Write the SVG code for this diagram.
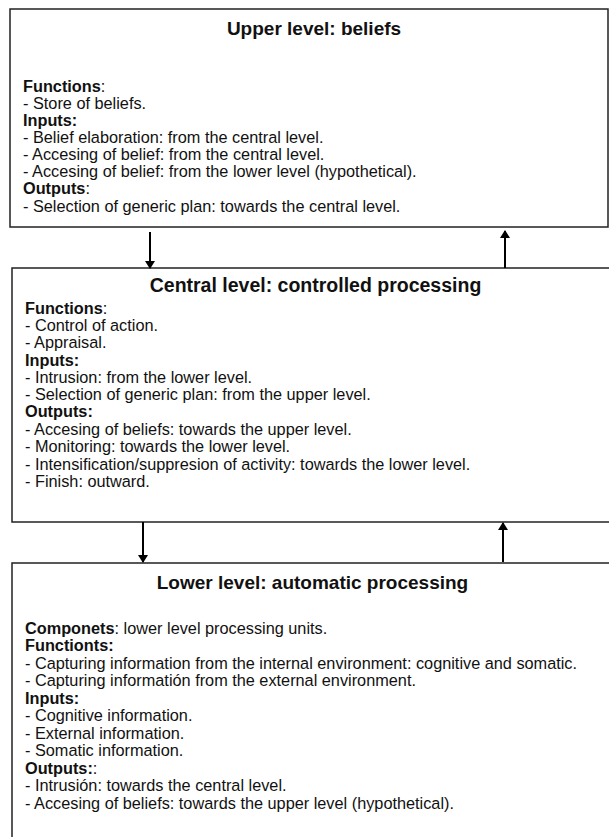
<svg xmlns="http://www.w3.org/2000/svg" width="609" height="837" viewBox="0 0 609 837">
<style>
.box{fill:#fff;stroke:#222;stroke-width:1.5}
.t{font-family:"Liberation Sans",Arial,sans-serif;font-size:16.3px;fill:#111}
.b{font-weight:bold}
.h{font-family:"Liberation Sans",Arial,sans-serif;font-size:19.5px;font-weight:bold;fill:#111;text-anchor:middle}
.s{font-size:19px}
.c{stroke:#000;stroke-width:2;fill:none}
</style>
<defs>
<marker id="ah" markerWidth="8" markerHeight="10" refX="7" refY="5" orient="auto" markerUnits="userSpaceOnUse" viewBox="0 0 8 10">
<path d="M0,0 L8,5 L0,10 Z" fill="#000"/>
</marker>
</defs>
<rect width="609" height="837" fill="#fff"/>
<g id="upper">
<rect class="box" x="10" y="9" width="598" height="218"/>
<text class="h s" x="314" y="35">Upper level: beliefs</text>
<text class="t" x="23" y="92"><tspan class="b">Functions</tspan>:</text>
<text class="t" x="23" y="109">- Store of beliefs.</text>
<text class="t b" x="23" y="126">Inputs:</text>
<text class="t" x="23" y="143">- Belief elaboration: from the central level.</text>
<text class="t" x="23" y="160">- Accesing of belief: from the central level.</text>
<text class="t" x="23" y="177">- Accesing of belief: from the lower level (hypothetical).</text>
<text class="t" x="23" y="194"><tspan class="b">Outputs</tspan>:</text>
<text class="t" x="23" y="212">- Selection of generic plan:  towards the central level.</text>
</g>
<g id="central">
<rect class="box" x="12" y="268" width="600" height="254"/>
<text class="h" x="315.5" y="292">Central level: controlled processing</text>
<text class="t" x="25" y="314"><tspan class="b">Functions</tspan>:</text>
<text class="t" x="25" y="331">- Control of action.</text>
<text class="t" x="25" y="348">- Appraisal.</text>
<text class="t b" x="25" y="366">Inputs:</text>
<text class="t" x="25" y="383">- Intrusion: from the lower level.</text>
<text class="t" x="25" y="400">- Selection of generic plan:  from the upper level.</text>
<text class="t b" x="25" y="417">Outputs:</text>
<text class="t" x="25" y="435">- Accesing of beliefs: towards the upper level.</text>
<text class="t" x="25" y="452">- Monitoring: towards the lower level.</text>
<text class="t" x="25" y="470">- Intensification/suppresion of activity: towards the lower level.</text>
<text class="t" x="25" y="487">- Finish: outward.</text>
</g>
<g id="lower">
<rect class="box" x="12" y="563" width="600" height="290"/>
<text class="h s" x="312.5" y="589">Lower level: automatic processing</text>
<text class="t" x="25" y="634"><tspan class="b">Componets</tspan>: lower level processing units.</text>
<text class="t b" x="25" y="651">Functionts:</text>
<text class="t" x="25" y="669">- Capturing information from the internal environment: cognitive and somatic.</text>
<text class="t" x="25" y="686">- Capturing informatión from the external environment.</text>
<text class="t b" x="25" y="704">Inputs:</text>
<text class="t" x="25" y="721">- Cognitive information.</text>
<text class="t" x="25" y="739">- External information.</text>
<text class="t" x="25" y="756">- Somatic information.</text>
<text class="t" x="25" y="774"><tspan class="b">Outputs:</tspan>:</text>
<text class="t" x="25" y="791">- Intrusión: towards the central level.</text>
<text class="t" x="25" y="809">- Accesing of beliefs: towards the upper level (hypothetical).</text>
</g>
<g id="connectors">
<line class="c" x1="150" y1="232" x2="150" y2="268" marker-end="url(#ah)"/>
<line class="c" x1="505" y1="268" x2="505" y2="231" marker-end="url(#ah)"/>
<line class="c" x1="143" y1="522" x2="143" y2="562" marker-end="url(#ah)"/>
<line class="c" x1="503" y1="562" x2="503" y2="523" marker-end="url(#ah)"/>
</g>
</svg>
